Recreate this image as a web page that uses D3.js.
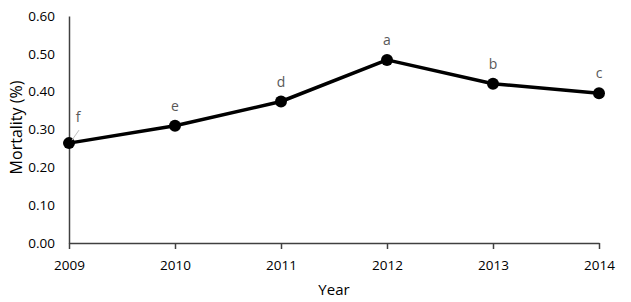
<!DOCTYPE html>
<html>
<head>
<meta charset="utf-8">
<script src="https://cdn.jsdelivr.net/npm/d3@7"></script>
<style>
  body { margin: 0; background: #fff; }
  text { font-family: "Open Sans", "Noto Sans", sans-serif; }
</style>
</head>
<body>
<div id="chart"></div>
<script>
var years = [2009, 2010, 2011, 2012, 2013, 2014];
var mortality = [0.264, 0.310, 0.374, 0.484, 0.421, 0.396];
var letters = ["f", "e", "d", "a", "b", "c"];
var yTicks = [0, 0.1, 0.2, 0.3, 0.4, 0.5, 0.6];

var width = 631, height = 302,
    margin = { left: 69, right: 32, top: 16, bottom: 59 };

var data = years.map(function(y, i){ return { year: y, value: mortality[i], label: letters[i] }; });

var xScale = d3.scaleLinear()
    .domain([2009, 2014])
    .range([0, width - margin.left - margin.right]);
var yScale = d3.scaleLinear()
    .domain([0, 0.6])
    .range([height - margin.top - margin.bottom, 0]);

function translate(dx, dy){ return "translate(" + dx + "," + dy + ")"; }

var svg = d3.select("#chart").append("svg")
    .attr("width", width)
    .attr("height", height)
  .append("g")
    .attr("transform", translate(margin.left, margin.top));

var innerH = height - margin.top - margin.bottom;

// x axis
var xAxis = d3.axisBottom(xScale)
    .tickValues(years)
    .tickFormat(d3.format("d"))
    .tickSize(6)
    .tickSizeOuter(0);
var gx = svg.append("g")
    .attr("class", "x-axis")
    .attr("transform", translate(0, innerH))
    .call(xAxis);
gx.select(".domain").attr("stroke", "#404040").attr("stroke-width", 1.5);
gx.selectAll(".tick line").attr("stroke", "#404040").attr("stroke-width", 1.5);
gx.selectAll(".tick text").attr("fill", "#000").attr("font-size", 13.5).attr("dy", "1.3em");

// y axis
var yAxis = d3.axisLeft(yScale)
    .tickValues(yTicks)
    .tickFormat(d3.format(".2f"))
    .tickSize(0)
    .tickPadding(14);
var gy = svg.append("g")
    .attr("class", "y-axis")
    .call(yAxis);
gy.select(".domain").attr("stroke", "#404040").attr("stroke-width", 1.5);
gy.selectAll(".tick text").attr("fill", "#000").attr("font-size", 13.5);

// axis titles
svg.append("text")
    .attr("x", (width - margin.left - margin.right) / 2)
    .attr("y", innerH + 52)
    .attr("text-anchor", "middle")
    .attr("font-size", 15)
    .text("Year");
svg.append("text")
    .attr("transform", translate(-47, innerH / 2 - 2) + " rotate(-90)")
    .attr("text-anchor", "middle")
    .attr("font-size", 16)
    .text("Mortality (%)");

// line
var line = d3.line()
    .x(function(d){ return xScale(d.year); })
    .y(function(d){ return yScale(d.value); });
svg.append("path")
    .datum(data)
    .attr("d", line)
    .attr("fill", "none")
    .attr("stroke", "#000")
    .attr("stroke-width", 3.5)
    .attr("stroke-linejoin", "round");

// points
svg.selectAll(".point")
    .data(data)
    .enter()
    .append("circle")
    .attr("class", "point")
    .attr("cx", function(d){ return xScale(d.year); })
    .attr("cy", function(d){ return yScale(d.value); })
    .attr("r", 6)
    .attr("fill", "#000");

// leader line for the first label
svg.append("line")
    .attr("x1", xScale(2009) + 3)
    .attr("y1", yScale(mortality[0]) - 3)
    .attr("x2", xScale(2009) + 10)
    .attr("y2", yScale(mortality[0]) - 13)
    .attr("stroke", "#bfbfbf")
    .attr("stroke-width", 1);

// letter labels
svg.selectAll(".lbl")
    .data(data)
    .enter()
    .append("text")
    .attr("class", "lbl")
    .attr("x", function(d, i){ return xScale(d.year) + (i === 0 ? 9 : 0); })
    .attr("y", function(d, i){ return yScale(d.value) - (i === 0 ? 21 : 15); })
    .attr("text-anchor", "middle")
    .attr("font-size", 14)
    .attr("fill", "#595959")
    .text(function(d){ return d.label; });
</script>
</body>
</html>
